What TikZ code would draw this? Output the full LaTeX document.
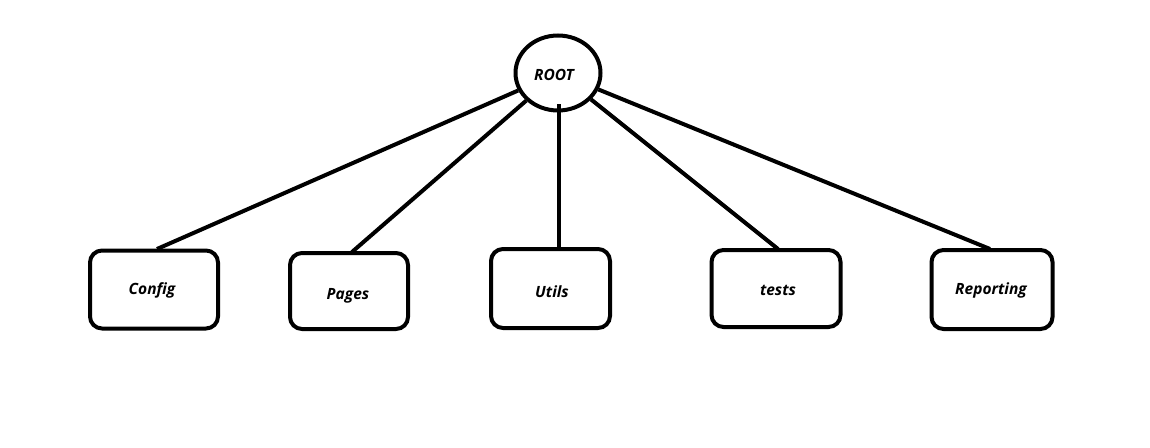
\documentclass[tikz,border=0pt]{standalone}
\usepackage{fontspec}
\setmainfont{Open Sans}
\usetikzlibrary{shapes.geometric}
\begin{document}
\begin{tikzpicture}[x=1pt,y=-1pt,
  box/.style={draw=black,line width=4pt,rounded corners=12pt,fill=white,inner sep=0pt},
  lbl/.style={font=\fontsize{15.5}{17}\selectfont\bfseries\itshape,inner sep=0pt},
  conn/.style={draw=black,line width=4pt}]
\useasboundingbox[fill=white] (0,0) rectangle (1150,447);
\node[draw=black,line width=4pt,ellipse,minimum width=85pt,minimum height=75pt,inner sep=0pt] (root) at (558,73) {};
\node[box,minimum width=128pt,minimum height=78pt] (config) at (154,289.5) {};
\node[box,minimum width=118pt,minimum height=76pt] (pages) at (349,291) {};
\node[box,minimum width=119pt,minimum height=79pt] (utils) at (550.5,288.5) {};
\node[box,minimum width=129pt,minimum height=77pt] (tests) at (776,288.5) {};
\node[box,minimum width=121pt,minimum height=79pt] (reporting) at (992,289.5) {};
\node[lbl] (rootT) at (554,75) {ROOT};
\node[lbl] (configT) at (152,290) {Config};
\node[lbl] (pagesT) at (348,296) {Pages};
\node[lbl] (utilsT) at (552,292) {Utils};
\node[lbl] (testsT) at (778,290) {tests};
\node[lbl] (reportingT) at (991,290) {Reporting};
\coordinate (cfgTop) at (157,249);
\coordinate (pgTop) at (352,252);
\coordinate (utTop) at (559,249);
\coordinate (tsTop) at (778,249);
\coordinate (rpTop) at (990,249);
\coordinate (utIn) at (559,104);
\draw[conn] (root) -- (cfgTop);
\draw[conn] (root) -- (pgTop);
\draw[conn] (utIn) -- (utTop);
\draw[conn] (root) -- (tsTop);
\draw[conn] (root) -- (rpTop);
\end{tikzpicture}
\end{document}
